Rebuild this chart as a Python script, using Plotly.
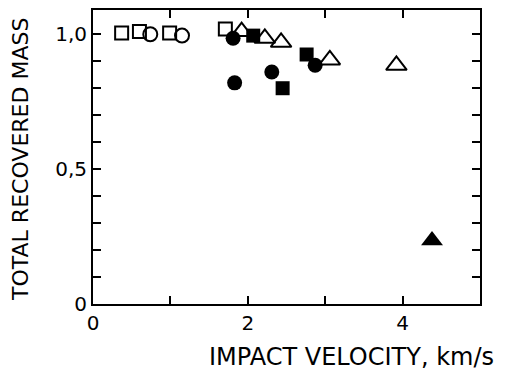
import plotly.graph_objects as go

# open squares
osq_x = [0.37, 0.60, 0.99, 1.71]
osq_y = [1.005, 1.01, 1.005, 1.02]
# open circles
oci_x = [0.74, 1.15]
oci_y = [1.0, 0.995]
# open triangles
otr_x = [1.92, 2.22, 2.43, 3.06, 3.92]
otr_y = [1.01, 0.985, 0.97, 0.905, 0.885]
# filled circles
fci_x = [1.81, 1.83, 2.31, 2.87]
fci_y = [0.985, 0.82, 0.86, 0.885]
# filled squares
fsq_x = [2.07, 2.45, 2.76]
fsq_y = [0.995, 0.80, 0.925]
# filled triangles
ftr_x = [4.38]
ftr_y = [0.235]

x_ticks = [0, 1, 2, 3, 4, 5]
x_text = ["0", "", "2", "", "4", ""]
y_ticks = [i / 10 for i in range(0, 11)]
y_text = ["0", "", "", "", "", "0,5", "", "", "", "", "1,0"]
x_title = "IMPACT VELOCITY, km/s"
y_title = "TOTAL RECOVERED MASS"

fig = go.Figure()
line = dict(color="black", width=2)
fig.add_trace(go.Scatter(x=osq_x, y=osq_y, mode="markers",
                         marker=dict(symbol="square-open", size=13, color="black", line=line)))
fig.add_trace(go.Scatter(x=oci_x, y=oci_y, mode="markers",
                         marker=dict(symbol="circle-open", size=14, color="black", line=line)))
fig.add_trace(go.Scatter(x=otr_x, y=otr_y, mode="markers",
                         marker=dict(symbol="triangle-up-open", size=18, color="black", line=line)))
fig.add_trace(go.Scatter(x=fci_x, y=fci_y, mode="markers",
                         marker=dict(symbol="circle", size=15, color="black")))
fig.add_trace(go.Scatter(x=fsq_x, y=fsq_y, mode="markers",
                         marker=dict(symbol="square", size=14, color="black")))
fig.add_trace(go.Scatter(x=ftr_x, y=ftr_y, mode="markers",
                         marker=dict(symbol="triangle-up", size=19, color="black")))

fig.update_layout(
    width=512, height=377,
    margin=dict(l=85, r=40, t=0, b=81),
    paper_bgcolor="white", plot_bgcolor="white",
    showlegend=False,
    font=dict(family="DejaVu Sans", size=20, color="black"),
    annotations=[
        dict(text=x_title, xref="paper", yref="paper", x=0.669, y=-0.179,
             xanchor="center", yanchor="middle", showarrow=False,
             font=dict(size=24)),
        dict(text=y_title, xref="paper", yref="paper", x=-0.189, y=0.493,
             xanchor="center", yanchor="middle", showarrow=False, textangle=-90,
             font=dict(size=22)),
    ],
)
fig.update_xaxes(
    range=[0, 5], tickvals=x_ticks, ticktext=x_text,
    ticks="inside", ticklen=8, tickwidth=2, tickcolor="black",
    showline=True, linewidth=2, linecolor="black", mirror="ticks",
    showgrid=False, zeroline=False,
)
fig.update_yaxes(
    range=[0, 1.09], tickvals=y_ticks, ticktext=y_text,
    ticks="inside", ticklen=8, tickwidth=2, tickcolor="black",
    showline=True, linewidth=2, linecolor="black", mirror="ticks",
    showgrid=False, zeroline=False,
)
fig.write_html("out.html")
